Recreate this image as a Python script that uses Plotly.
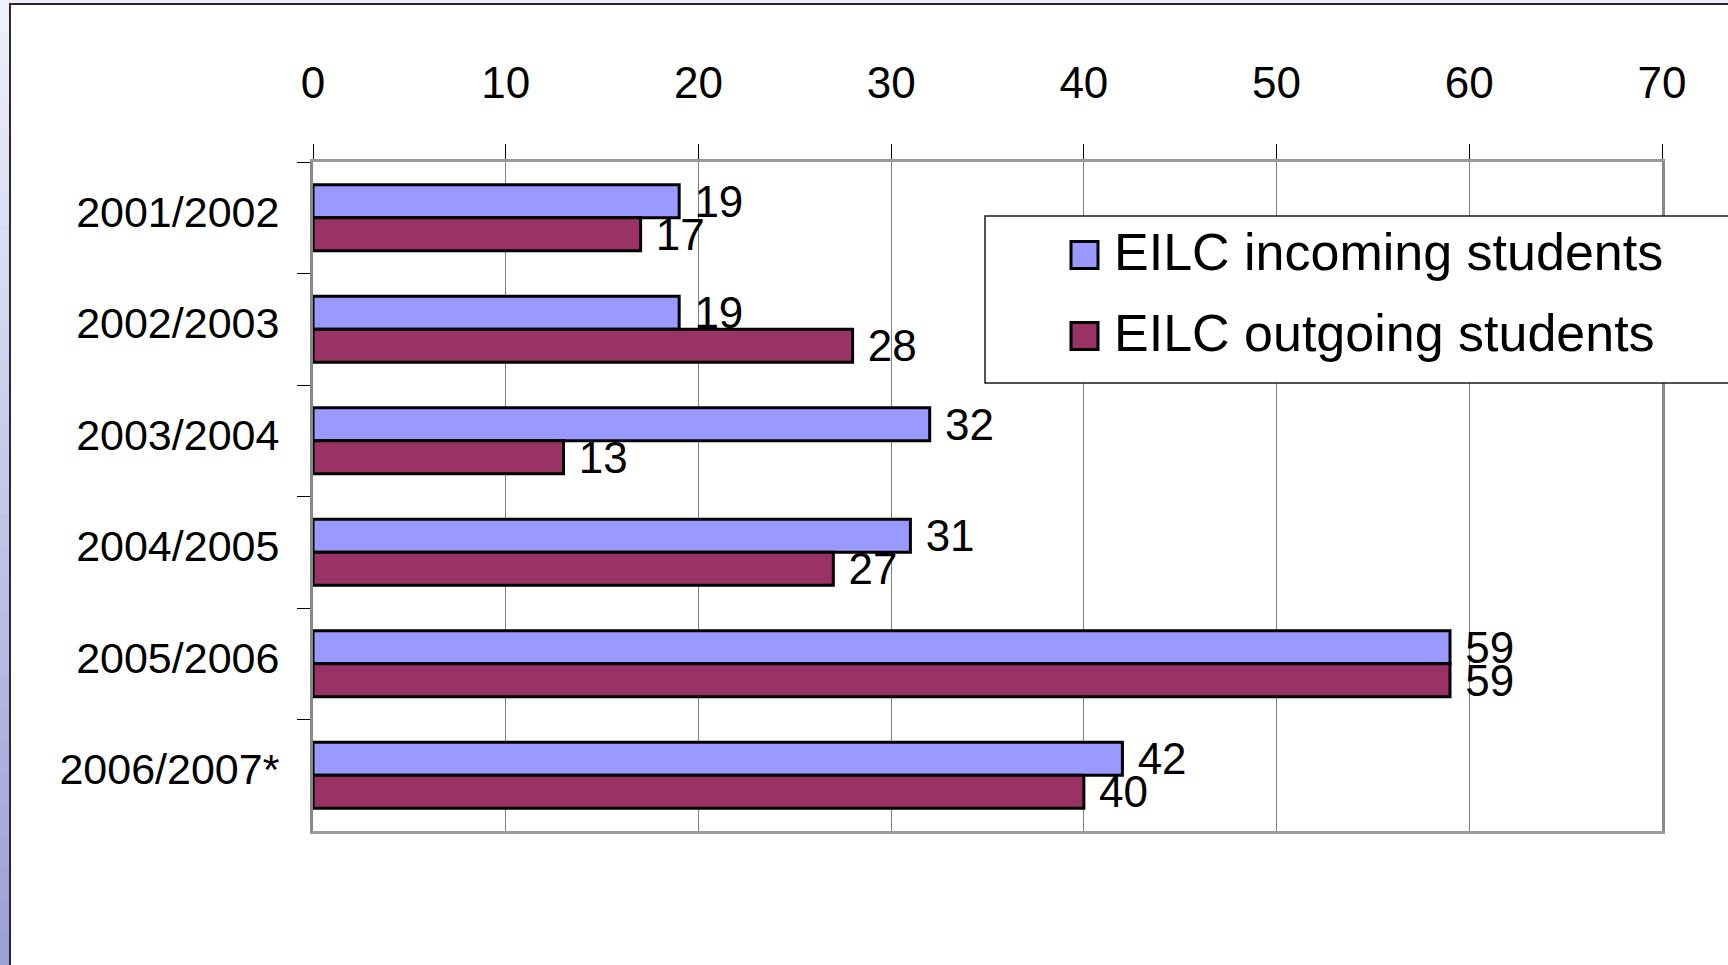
import plotly.graph_objects as go

# ---- data ----
years = ["2001/2002", "2002/2003", "2003/2004", "2004/2005", "2005/2006", "2006/2007*"]
incoming = [19, 19, 32, 31, 59, 42]
outgoing = [17, 28, 13, 27, 59, 40]
series_names = ["EILC incoming students", "EILC outgoing students"]
x_ticks = [0, 10, 20, 30, 40, 50, 60, 70]

# ---- geometry / style ----
W, H = 1728, 965
ML, MR, MT, MB = 313, 66, 162, 134
PW, PH = W - ML - MR, H - MT - MB
FONT = "Liberation Sans, Arial, sans-serif"
C_IN, C_OUT = "#9999FF", "#993366"


def px_x(px):
    return (px - ML) / PW


def px_y(py):
    return (H - MB - py) / PH


fig = go.Figure()
for name, vals, col in [(series_names[0], incoming, C_IN), (series_names[1], outgoing, C_OUT)]:
    fig.add_trace(go.Bar(
        y=years, x=vals, orientation="h", name=name, showlegend=False,
        marker=dict(color=col, line=dict(color="black", width=3)),
        texttemplate="\u00a0%{x}", textposition="outside", constraintext="none",
        textfont=dict(family=FONT, size=44, color="black"), cliponaxis=False,
    ))
# legend entries (text from plotly legend; swatches drawn as shapes)
for i, name in enumerate(series_names):
    fig.add_trace(go.Scatter(
        x=[None], y=[None], mode="markers", name=name, legendgroup=str(i),
        marker=dict(symbol="square", size=2, color="rgba(0,0,0,0)", line=dict(width=0)),
    ))

shapes = []
# white panel with dark border
shapes.append(dict(type="rect", xref="paper", yref="paper", layer="below",
                   x0=px_x(10), x1=px_x(W + 20), y0=px_y(H + 20), y1=px_y(4),
                   fillcolor="white", line=dict(color="#2a2a2a", width=2)))
# left gradient strip
n = 30
c0 = (238, 240, 250)
c1 = (156, 160, 216)
for k in range(n):
    t = k / (n - 1)
    c = tuple(int(round(a + (b - a) * t)) for a, b in zip(c0, c1))
    shapes.append(dict(type="rect", xref="paper", yref="paper", layer="below",
                       x0=px_x(0), x1=px_x(9),
                       y0=px_y(H * (k + 1) / n + 1), y1=px_y(H * k / n),
                       fillcolor="rgb(%d,%d,%d)" % c, line=dict(width=0)))
# legend box and swatches
shapes.append(dict(type="rect", xref="paper", yref="paper", layer="above",
                   x0=px_x(985), x1=px_x(W + 30), y0=px_y(383), y1=px_y(216),
                   fillcolor="white", line=dict(color="#1a1a1a", width=1.5)))
for cy, col in [(255, C_IN), (336, C_OUT)]:
    shapes.append(dict(type="rect", xref="paper", yref="paper", layer="above",
                       x0=px_x(1071), x1=px_x(1098), y0=px_y(cy + 13.5), y1=px_y(cy - 13.5),
                       fillcolor=col, line=dict(color="black", width=3)))

fig.update_layout(
    width=W, height=H,
    margin=dict(l=ML, r=MR, t=MT, b=MB, autoexpand=False),
    paper_bgcolor="#eceef8", plot_bgcolor="rgba(0,0,0,0)",
    barmode="group", bargap=0.41, bargroupgap=0,
    font=dict(family=FONT, color="black"),
    shapes=shapes,
    legend=dict(
        x=px_x(1024), y=px_y(209), xanchor="left", yanchor="top",
        bgcolor="rgba(0,0,0,0)", borderwidth=0,
        font=dict(family=FONT, size=52, color="black"),
        traceorder="grouped", tracegroupgap=11, indentation=50,
    ),
    xaxis=dict(
        side="top", range=[0, 70], tickvals=x_ticks, ticktext=[str(v) for v in x_ticks],
        showgrid=True, gridcolor="#808080", gridwidth=1, zeroline=False,
        showline=True, linecolor="#999999", linewidth=3, mirror=True,
        ticks="outside", ticklen=15, tickcolor="black", tickwidth=1,
        tickfont=dict(family=FONT, size=44, color="black"), ticklabelstandoff=28,
    ),
    yaxis=dict(
        autorange="reversed", showgrid=False, zeroline=False,
        showline=True, linecolor="#888888", linewidth=3, mirror=True,
        ticks="outside", ticklen=13, tickcolor="black", tickwidth=1, tickson="boundaries",
        tickfont=dict(family=FONT, size=43, color="black"), ticklabelstandoff=22,
        ticklabelshift=6,
    ),
)

fig.write_html("out.html", config={"displayModeBar": False},
               post_script="document.body.style.margin='0';")
